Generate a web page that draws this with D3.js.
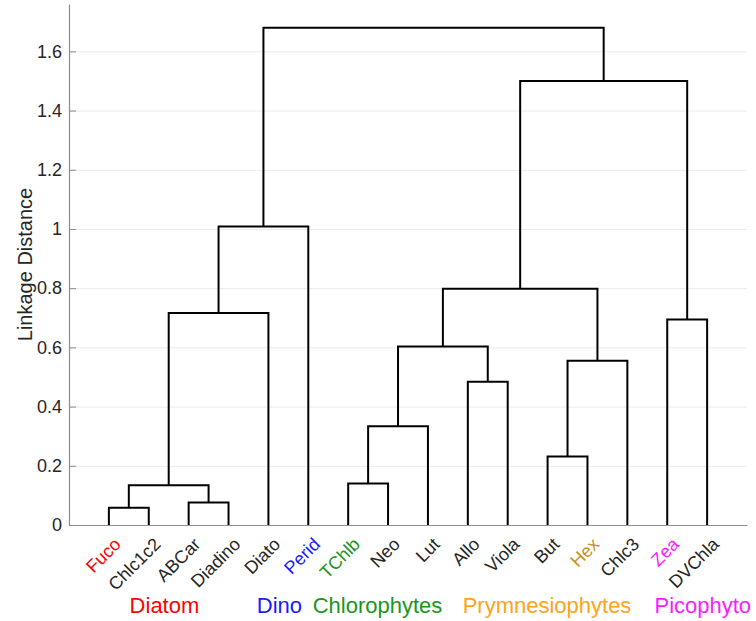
<!DOCTYPE html>
<html>
<head>
<meta charset="utf-8">
<script src="https://cdn.jsdelivr.net/npm/d3@7/dist/d3.min.js"></script>
<style>
  html, body { margin: 0; padding: 0; background: #fff; }
  svg { display: block; font-family: Helvetica, Arial, "Liberation Sans", sans-serif; }
</style>
</head>
<body>
<svg id="chart" width="756" height="621"></svg>
<script>
// Pigments in dendrogram leaf order
const leaves = ["Fuco", "Chlc1c2", "ABCar", "Diadino", "Diato", "Perid", "TChlb", "Neo",
                "Lut", "Allo", "Viola", "But", "Hex", "Chlc3", "Zea", "DVChla"];
const leafColors = ["#ff0000", "#262626", "#262626", "#262626", "#262626", "#1a1aff", "#1a961a", "#262626",
                    "#262626", "#262626", "#262626", "#262626", "#c8901e", "#262626", "#ff1aff", "#262626"];

// Linkage rows: [left child, right child, distance]; ids 0..15 are leaves, 16+ are merges in row order
const linkLeft   = [0, 2, 16, 6, 11, 19, 9, 20, 21, 14, 18, 24, 26, 27, 28];
const linkRight  = [1, 3, 17, 7, 12, 8, 10, 13, 22, 15, 4, 23, 5, 25, 29];
const linkHeight = [0.058, 0.076, 0.134, 0.140, 0.231, 0.334, 0.484, 0.555, 0.603, 0.694, 0.716, 0.798, 1.008, 1.500, 1.680];

const yTicks = [0, 0.2, 0.4, 0.6, 0.8, 1, 1.2, 1.4, 1.6];

// Phytoplankton groups printed under the leaves
const groupNames  = ["Diatom", "Dino", "Chlorophytes", "Prymnesiophytes", "Picophyto"];
const groupColors = ["#ff0000", "#1a1aff", "#1a961a", "#ffa31a", "#ff1aff"];
const groupStart  = [1.52, 4.71, 6.11, 9.87, 14.68]; // label start, in leaf units

const svg = d3.select("#chart");
const plotL = 69, plotR = 747, plotT = 4, plotB = 525;

const x = d3.scaleLinear().domain([0, leaves.length + 1]).range([plotL, plotR]);
const y = d3.scaleLinear().domain([0, 1.76]).range([plotB, plotT]);

// horizontal grid
svg.append("g")
  .attr("transform", `translate(${plotL},0)`)
  .call(d3.axisLeft(y).tickValues(yTicks).tickSize(-(plotR - plotL)).tickFormat(""))
  .call(g => g.select(".domain").remove())
  .call(g => g.selectAll("line").attr("stroke", "#ebebeb").attr("stroke-width", 1));

// y axis with inward ticks
const yAxis = svg.append("g")
  .attr("transform", `translate(${plotL},0)`)
  .call(d3.axisLeft(y).tickValues(yTicks).tickSizeInner(-7).tickSizeOuter(0).tickPadding(7)
        .tickFormat(d => d3.format("~g")(d)));
yAxis.select(".domain").attr("stroke", "#8c8c8c").attr("stroke-width", 1.2);
yAxis.selectAll(".tick line").attr("stroke", "#8c8c8c");
yAxis.selectAll(".tick text").attr("fill", "#262626").style("font-size", "18px");

// x axis with rotated leaf names
const xAxis = svg.append("g")
  .attr("transform", `translate(0,${plotB})`)
  .call(d3.axisBottom(x).tickValues(d3.range(1, leaves.length + 1)).tickSize(0).tickSizeOuter(0)
        .tickFormat(d => leaves[d - 1]));
xAxis.select(".domain").attr("stroke", "#8c8c8c").attr("stroke-width", 1.2);
xAxis.selectAll(".tick text")
  .attr("text-anchor", "end")
  .attr("x", 8).attr("y", 16).attr("dy", "0.35em")
  .attr("transform", "rotate(-45 8 16)")
  .attr("fill", (d) => leafColors[d - 1])
  .style("font-size", "18px");

// y label
svg.append("text")
  .attr("transform", `translate(25,${(plotT + plotB) / 2}) rotate(-90)`)
  .attr("text-anchor", "middle")
  .attr("dy", "0.35em")
  .attr("fill", "#262626")
  .style("font-size", "20px")
  .text("Linkage Distance");

// node positions: leaves sit at 1..n, merges at the midpoint of their children
const nodeX = leaves.map((_, i) => i + 1);
const nodeH = leaves.map(() => 0);
linkHeight.forEach((h, k) => {
  nodeX.push((nodeX[linkLeft[k]] + nodeX[linkRight[k]]) / 2);
  nodeH.push(h);
});

const links = linkHeight.map((h, k) => ({ a: linkLeft[k], b: linkRight[k], h }));
svg.append("g")
  .selectAll("path")
  .data(links)
  .join("path")
  .attr("fill", "none")
  .attr("stroke", "#000")
  .attr("stroke-width", 2)
  .attr("stroke-linejoin", "miter")
  .attr("d", d => {
    const p = d3.path();
    p.moveTo(x(nodeX[d.a]), y(nodeH[d.a]));
    p.lineTo(x(nodeX[d.a]), y(d.h));
    p.lineTo(x(nodeX[d.b]), y(d.h));
    p.lineTo(x(nodeX[d.b]), y(nodeH[d.b]));
    return p.toString();
  });

// group labels
svg.append("g")
  .selectAll("text")
  .data(groupNames)
  .join("text")
  .attr("x", (d, i) => x(groupStart[i]))
  .attr("y", 613)
  .attr("fill", (d, i) => groupColors[i])
  .style("font-size", "22px")
  .text(d => d);
</script>
</body>
</html>
